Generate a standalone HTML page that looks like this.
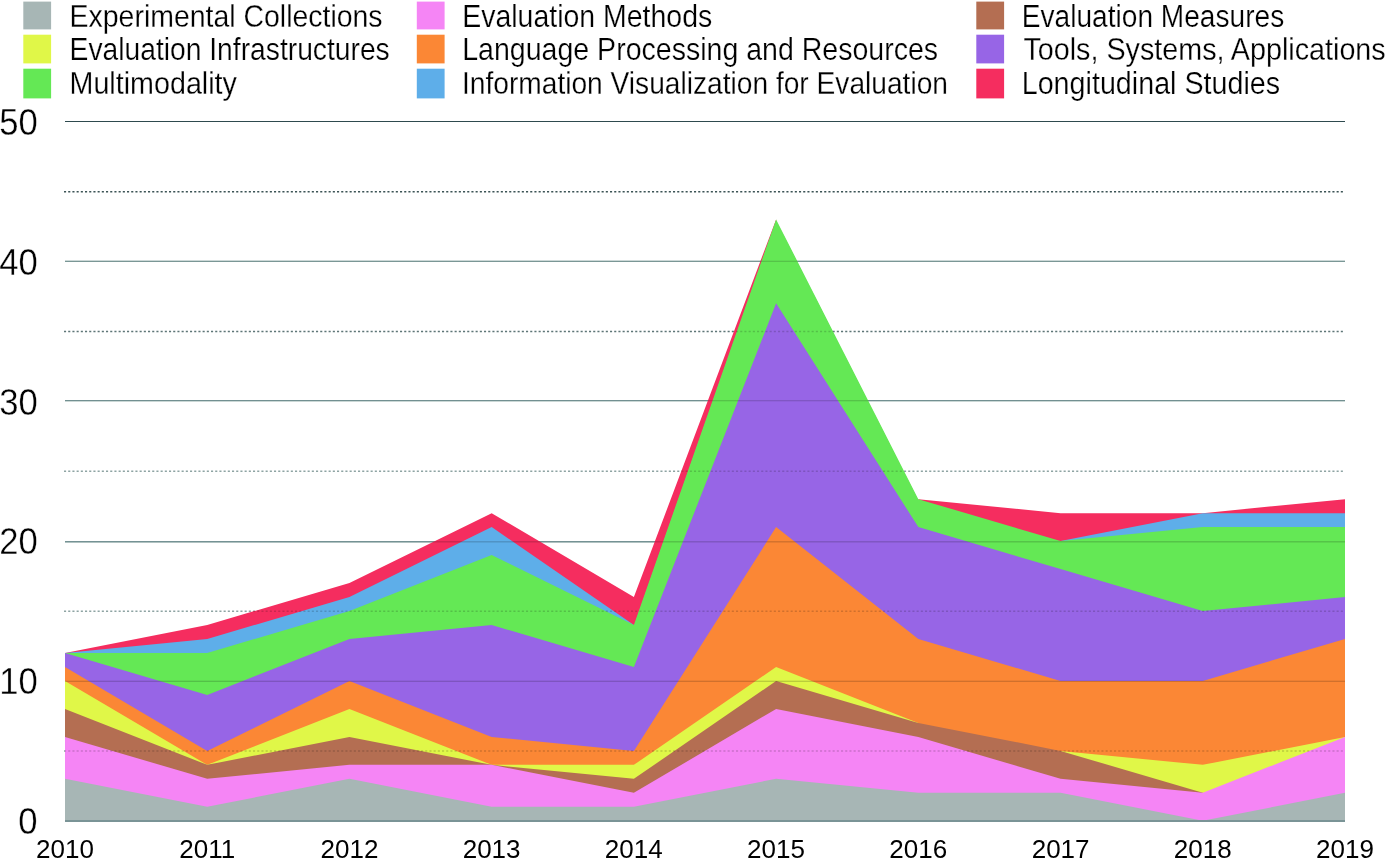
<!DOCTYPE html><html><head><meta charset="utf-8"><style>html,body{margin:0;padding:0;background:#fff;width:1388px;height:858px;overflow:hidden}svg{display:block}text{font-family:"Liberation Sans",sans-serif;fill:#000}</style></head><body>
<svg width="1388" height="858" viewBox="0 0 1388 858">
<rect width="1388" height="858" fill="#fff"/>
<defs><clipPath id="stk"><path d="M65.00,652.98 L207.22,625.01 L349.44,583.05 L491.67,513.13 L633.89,597.04 L776.11,219.44 L918.33,499.14 L1060.56,513.13 L1202.78,513.13 L1345.00,499.14 L1345.00,822.00 L65.00,822.00 Z"/></clipPath></defs>
<rect x="65.0" y="121" width="1280.0" height="1" fill="#2e4a4e"/>
<rect x="65.0" y="260" width="1280.0" height="1" fill="#ccd8d7"/>
<rect x="65.0" y="261" width="1280.0" height="1" fill="#7a9796"/>
<rect x="65.0" y="400" width="1280.0" height="1" fill="#729091"/>
<rect x="65.0" y="401" width="1280.0" height="1" fill="#cbd8d6"/>
<rect x="65.0" y="541" width="1280.0" height="1" fill="#749294"/>
<rect x="65.0" y="542" width="1280.0" height="1" fill="#b0c2c1"/>
<rect x="65.0" y="681" width="1280.0" height="1" fill="#749294"/>
<rect x="65.0" y="680" width="1280.0" height="1" fill="#c8d4d3"/>
<line x1="64.0" x2="1345.0" y1="751.08" y2="751.08" stroke="#8ea4a3" stroke-width="1.5" stroke-dasharray="2.1 2.1"/>
<line x1="64.0" x2="1345.0" y1="611.23" y2="611.23" stroke="#8ea4a3" stroke-width="1.5" stroke-dasharray="2.1 2.1"/>
<line x1="64.0" x2="1345.0" y1="471.37" y2="471.37" stroke="#8ea4a3" stroke-width="1.5" stroke-dasharray="2.1 2.1"/>
<line x1="64.0" x2="1345.0" y1="331.52" y2="331.52" stroke="#5e7677" stroke-width="1.5" stroke-dasharray="2.1 2.1"/>
<line x1="64.0" x2="1345.0" y1="191.68" y2="191.68" stroke="#3c5456" stroke-width="1.5" stroke-dasharray="2.1 2.1"/>
<path d="M65.00,652.98 L207.22,625.01 L349.44,583.05 L491.67,513.13 L633.89,597.04 L776.11,219.44 L776.11,220.94 L918.33,500.64 L918.33,499.14 L1060.56,513.13 L1202.78,513.13 L1345.00,499.14 L1345.00,822.00 L65.00,822.00 Z" fill="#f52d5f"/>
<path d="M65.00,652.98 L207.22,638.99 L349.44,597.04 L491.67,527.12 L633.89,625.01 L633.89,626.51 L776.11,220.94 L918.33,500.64 L1060.56,542.60 L1060.56,541.10 L1202.78,513.13 L1345.00,513.13 L1345.00,822.00 L65.00,822.00 Z" fill="#5eaee9"/>
<path d="M65.00,652.98 L207.22,652.98 L349.44,611.02 L491.67,555.09 L633.89,625.01 L776.11,219.44 L918.33,499.14 L1060.56,541.10 L1202.78,527.12 L1345.00,527.12 L1345.00,822.00 L65.00,822.00 Z" fill="#64e855"/>
<path d="M65.00,652.98 L207.22,694.93 L349.44,638.99 L491.67,625.01 L633.89,666.96 L776.11,303.36 L918.33,527.12 L1060.56,569.07 L1202.78,611.02 L1345.00,597.04 L1345.00,822.00 L65.00,822.00 Z" fill="#9765e6"/>
<path d="M65.00,666.96 L207.22,750.88 L349.44,680.95 L491.67,736.89 L633.89,750.88 L776.11,527.12 L918.33,638.99 L1060.56,680.95 L1202.78,680.95 L1345.00,638.99 L1345.00,822.00 L65.00,822.00 Z" fill="#fb8735"/>
<path d="M65.00,680.95 L207.22,764.86 L349.44,708.92 L491.67,764.86 L633.89,764.86 L776.11,666.96 L918.33,722.90 L918.33,724.40 L1060.56,752.38 L1060.56,750.88 L1202.78,764.86 L1345.00,736.89 L1345.00,822.00 L65.00,822.00 Z" fill="#e0f748"/>
<path d="M65.00,708.92 L207.22,764.86 L349.44,736.89 L491.67,764.86 L633.89,778.84 L776.11,680.95 L918.33,722.90 L1060.56,750.88 L1202.78,792.83 L1202.78,794.33 L1345.00,738.39 L1345.00,822.00 L65.00,822.00 Z" fill="#b46e52"/>
<path d="M65.00,736.89 L207.22,778.84 L349.44,764.86 L491.67,764.86 L633.89,792.83 L776.11,708.92 L918.33,736.89 L1060.56,778.84 L1202.78,792.83 L1345.00,736.89 L1345.00,822.00 L65.00,822.00 Z" fill="#f585f5"/>
<path d="M65.00,778.84 L207.22,806.81 L349.44,778.84 L491.67,806.81 L633.89,806.81 L776.11,778.84 L918.33,792.83 L1060.56,792.83 L1202.78,820.80 L1345.00,792.83 L1345.00,822.00 L65.00,822.00 Z" fill="#a7b6b5"/>
<g clip-path="url(#stk)" style="mix-blend-mode:multiply">
<rect x="65.0" y="121" width="1280.0" height="1" fill="#d4d4d4"/>
<rect x="65.0" y="260" width="1280.0" height="1" fill="#f2f2f2"/>
<rect x="65.0" y="261" width="1280.0" height="1" fill="#d8d8d8"/>
<rect x="65.0" y="400" width="1280.0" height="1" fill="#d8d8d8"/>
<rect x="65.0" y="401" width="1280.0" height="1" fill="#f2f2f2"/>
<rect x="65.0" y="541" width="1280.0" height="1" fill="#d8d8d8"/>
<rect x="65.0" y="542" width="1280.0" height="1" fill="#eaeaea"/>
<rect x="65.0" y="681" width="1280.0" height="1" fill="#d4d4d4"/>
<rect x="65.0" y="680" width="1280.0" height="1" fill="#f0f0f0"/>
<line x1="64.0" x2="1345.0" y1="751.08" y2="751.08" stroke="#d4d4d4" stroke-width="1.5" stroke-dasharray="2.1 2.1"/>
<line x1="64.0" x2="1345.0" y1="611.23" y2="611.23" stroke="#d4d4d4" stroke-width="1.5" stroke-dasharray="2.1 2.1"/>
<line x1="64.0" x2="1345.0" y1="471.37" y2="471.37" stroke="#d4d4d4" stroke-width="1.5" stroke-dasharray="2.1 2.1"/>
<line x1="64.0" x2="1345.0" y1="331.52" y2="331.52" stroke="#d4d4d4" stroke-width="1.5" stroke-dasharray="2.1 2.1"/>
<line x1="64.0" x2="1345.0" y1="191.68" y2="191.68" stroke="#d4d4d4" stroke-width="1.5" stroke-dasharray="2.1 2.1"/>
</g>
<rect x="65.0" y="820" width="1280.0" height="2" fill="#7a9496"/>
<rect x="23.3" y="1.6" width="27.8" height="27.8" fill="#a7b6b5"/>
<text transform="translate(69.62,27.0) scale(0.9031,1)" font-size="31.5" stroke="#fff" stroke-width="0.25">Experimental Collections</text>
<rect x="416.8" y="1.6" width="27.8" height="27.8" fill="#f585f5"/>
<text transform="translate(462.22,27.0) scale(0.9037,1)" font-size="31.5" stroke="#fff" stroke-width="0.25">Evaluation Methods</text>
<rect x="976.3" y="1.6" width="27.8" height="27.8" fill="#b46e52"/>
<text transform="translate(1021.75,27.0) scale(0.8928,1)" font-size="31.5" stroke="#fff" stroke-width="0.25">Evaluation Measures</text>
<rect x="23.3" y="34.7" width="27.8" height="28.7" fill="#e0f748"/>
<text transform="translate(69.54,60.3) scale(0.8969,1)" font-size="31.5" stroke="#fff" stroke-width="0.25">Evaluation Infrastructures</text>
<rect x="416.8" y="34.7" width="27.8" height="28.7" fill="#fb8735"/>
<text transform="translate(462.22,60.3) scale(0.9062,1)" font-size="31.5" stroke="#fff" stroke-width="0.25">Language Processing and Resources</text>
<rect x="976.3" y="34.7" width="27.8" height="28.7" fill="#9765e6"/>
<text transform="translate(1023.43,60.3) scale(0.9122,1)" font-size="31.5" stroke="#fff" stroke-width="0.25">Tools, Systems, Applications</text>
<rect x="23.3" y="68.7" width="27.8" height="29.7" fill="#64e855"/>
<text transform="translate(69.50,93.7) scale(0.9110,1)" font-size="31.5" stroke="#fff" stroke-width="0.25">Multimodality</text>
<rect x="416.8" y="68.7" width="27.8" height="29.7" fill="#5eaee9"/>
<text transform="translate(461.97,93.7) scale(0.8939,1)" font-size="31.5" stroke="#fff" stroke-width="0.25">Information Visualization for Evaluation</text>
<rect x="976.3" y="68.7" width="27.8" height="29.7" fill="#f52d5f"/>
<text transform="translate(1021.70,93.7) scale(0.9113,1)" font-size="31.5" stroke="#fff" stroke-width="0.25">Longitudinal Studies</text>
<text transform="translate(18.27,834.10) scale(0.95,1)" font-size="36.5" stroke="#fff" stroke-width="0.35">0</text>
<text transform="translate(-0.80,694.25) scale(0.95,1)" font-size="36.5" stroke="#fff" stroke-width="0.35">10</text>
<text transform="translate(-0.80,554.40) scale(0.95,1)" font-size="36.5" stroke="#fff" stroke-width="0.35">20</text>
<text transform="translate(-0.80,414.55) scale(0.95,1)" font-size="36.5" stroke="#fff" stroke-width="0.35">30</text>
<text transform="translate(-0.80,274.70) scale(0.95,1)" font-size="36.5" stroke="#fff" stroke-width="0.35">40</text>
<text transform="translate(-0.80,134.85) scale(0.95,1)" font-size="36.5" stroke="#fff" stroke-width="0.35">50</text>
<text x="36.01" y="858.0" font-size="26.0">2010</text>
<text x="179.27" y="858.0" font-size="26.0">2011</text>
<text x="320.58" y="858.0" font-size="26.0">2012</text>
<text x="462.68" y="858.0" font-size="26.0">2013</text>
<text x="604.77" y="858.0" font-size="26.0">2014</text>
<text x="747.12" y="858.0" font-size="26.0">2015</text>
<text x="889.34" y="858.0" font-size="26.0">2016</text>
<text x="1031.70" y="858.0" font-size="26.0">2017</text>
<text x="1173.79" y="858.0" font-size="26.0">2018</text>
<text x="1316.01" y="858.0" font-size="26.0">2019</text>
</svg></body></html>
